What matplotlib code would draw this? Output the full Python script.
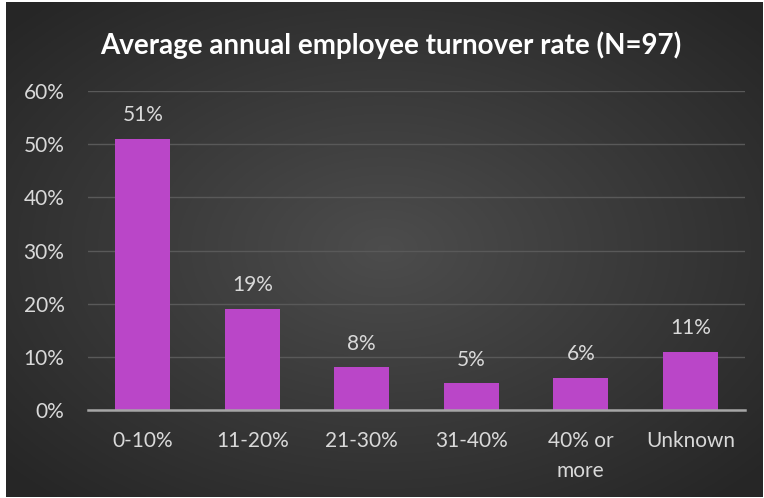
import numpy as np
import matplotlib.pyplot as plt
from matplotlib.ticker import PercentFormatter

categories = ['0-10%', '11-20%', '21-30%', '31-40%', '40% or\nmore', 'Unknown']
turnover_pct = [51, 19, 8, 5, 6, 11]

plt.rcParams['font.family'] = ['Lato', 'DejaVu Sans']

fig = plt.figure(figsize=(7.64, 4.98), dpi=100)
fig.patch.set_facecolor('white')

# dark radial gradient panel behind everything
bg = fig.add_axes([6 / 764, 1 / 498, 757 / 764, 495 / 498], zorder=0)
gx, gy = np.meshgrid(np.linspace(-1, 1, 400), np.linspace(-1, 1, 260))
r = np.clip(np.sqrt(gx ** 2 + gy ** 2) / 1.35, 0, 1)
shade = 0.30 - 0.15 * r
bg.imshow(np.dstack([shade, shade, shade]), aspect='auto', extent=[0, 1, 0, 1])
bg.axis('off')

ax = fig.add_axes([88 / 764, (498 - 410) / 498, 657 / 764, 319 / 498], zorder=1)
ax.patch.set_alpha(0)

x = np.arange(len(categories))
bars = ax.bar(x, turnover_pct, width=0.5, color='#BA46C8', zorder=2)

for xi, v in zip(x, turnover_pct):
    ax.annotate(f'{v}%', (xi, v), xytext=(0, 17), textcoords='offset points',
                ha='center', va='center', color='#D9D9D9', fontsize=15)

ax.set_xlim(-0.5, len(categories) - 0.5)
ax.set_ylim(0, 60)
ax.set_yticks(np.arange(0, 61, 10))
ax.yaxis.set_major_formatter(PercentFormatter(decimals=0))
ax.set_xticks(x)
ax.set_xticklabels(categories, linespacing=1.65)
ax.grid(axis='y', color='#595959', linewidth=1, zorder=0)
ax.tick_params(axis='both', length=0, colors='#D9D9D9', labelsize=15)
ax.tick_params(axis='x', pad=15)
ax.tick_params(axis='y', pad=17)

for side in ['top', 'right', 'left']:
    ax.spines[side].set_visible(False)
ax.spines['bottom'].set_color('#A6A6A6')
ax.spines['bottom'].set_linewidth(1.8)

fig.text(391 / 764, 1 - 45 / 498, 'Average annual employee turnover rate (N=97)',
         ha='center', va='center', color='white', fontsize=20, fontweight='bold')

fig.savefig('out.png', dpi=100)
